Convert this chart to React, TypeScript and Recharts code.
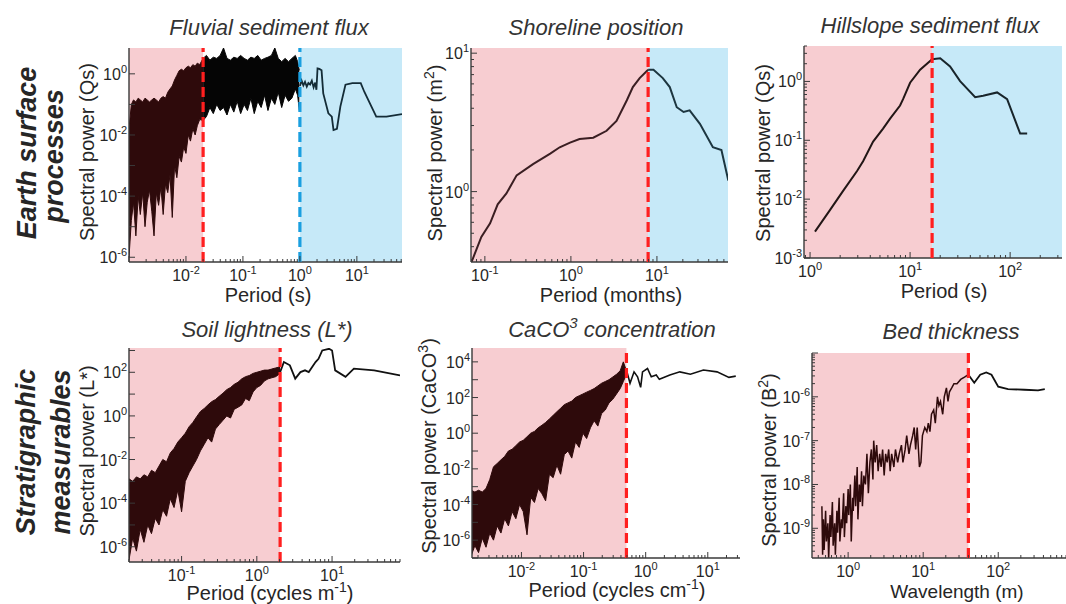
import React from 'react';
import { ComposedChart, Line, Area, XAxis, YAxis, ReferenceArea, ReferenceLine } from 'recharts';

const FONT = '"Liberation Sans", Arial, Helvetica, sans-serif';
const PINK = '#f7cdd1';
const BLUE = '#c6e9f8';
const RED = '#ff1f1f';
const CYAN = '#1a9fe0';
const FRAME = '#3a3a3a';
const TXT = '#262626';

// ---------- Fluvial sediment flux ----------
const fluvialNoiseX = [0.0010, 0.0011, 0.0012, 0.00132, 0.00145, 0.00158, 0.00174, 0.00191, 0.00209, 0.00229, 0.00251, 0.00275, 0.00302, 0.00331, 0.00363, 0.00398, 0.00437, 0.00479, 0.00525, 0.00575, 0.00631, 0.00692, 0.00759, 0.00832, 0.00912, 0.0100, 0.0110, 0.0120, 0.0132, 0.0145, 0.0158, 0.0174, 0.0200, 0.0229, 0.0263, 0.0302, 0.0347, 0.0398, 0.0457, 0.0525, 0.0603, 0.0692, 0.0794, 0.0912, 0.105, 0.120, 0.138, 0.158, 0.182, 0.209, 0.240, 0.275, 0.316, 0.363, 0.417, 0.479, 0.550, 0.631, 0.724, 0.832, 0.912, 0.977];
const fluvialNoiseHi = [0.016, 0.10, 0.14, 0.12, 0.16, 0.14, 0.12, 0.16, 0.14, 0.12, 0.14, 0.16, 0.14, 0.12, 0.16, 0.18, 0.16, 0.25, 0.32, 0.40, 0.63, 0.89, 1.26, 1.41, 1.26, 1.58, 1.78, 1.58, 2.0, 1.78, 2.24, 2.0, 3.2, 4.0, 2.8, 3.5, 3.2, 4.0, 7.0, 3.2, 2.8, 3.5, 3.2, 4.0, 3.2, 2.8, 3.5, 3.2, 4.0, 2.8, 3.2, 3.5, 4.0, 7.0, 3.2, 2.5, 3.2, 2.5, 3.2, 4.0, 2.5, 1.3];
const fluvialNoiseLo = [1.0e-6, 1.6e-5, 6.3e-5, 5.0e-6, 1.0e-4, 2.5e-5, 1.3e-4, 1.0e-5, 6.3e-5, 1.6e-4, 3.2e-5, 5.0e-6, 1.3e-4, 5.0e-5, 2.0e-4, 2.5e-5, 2.5e-4, 1.3e-4, 5.0e-4, 2.0e-5, 1.0e-3, 4.0e-4, 2.0e-3, 1.3e-3, 4.0e-3, 2.5e-3, 1.0e-2, 6.3e-3, 1.6e-2, 1.0e-2, 2.0e-2, 3.2e-2, 3.0e-2, 0.04, 0.079, 0.05, 0.1, 0.063, 0.079, 0.045, 0.1, 0.056, 0.126, 0.05, 0.1, 0.063, 0.16, 0.05, 0.126, 0.079, 0.2, 0.063, 0.16, 0.1, 0.25, 0.079, 0.2, 0.126, 0.16, 0.32, 0.2, 0.063];
const fluvialTailX = [1.0, 1.07, 1.15, 1.23, 1.32, 1.41, 1.51, 1.62, 1.74, 1.86, 1.95, 2.04, 2.19, 2.40, 2.57, 3.16, 3.63, 3.89, 4.47, 5.13, 6.31, 8.32, 11.7, 13.5, 21.9, 33.1, 62];
const fluvialTailY = [0.4, 0.6, 0.42, 0.55, 0.38, 0.5, 0.45, 0.6, 0.36, 0.52, 0.3, 1.5, 1.45, 1.3, 0.23, 0.051, 0.04, 0.0145, 0.016, 0.085, 0.44, 0.5, 0.5, 0.26, 0.04, 0.04, 0.048];
const fluvialXTicks = [0.01, 0.1, 1, 10];
const fluvialYTicks = [1e-6, 1e-4, 1e-2, 1];
const fluvialBreaks = [0.02, 1.0];

// ---------- Shoreline position ----------
const shoreX = [0.07, 0.091, 0.115, 0.141, 0.178, 0.234, 0.363, 0.575, 0.741, 0.977, 1.26, 1.82, 2.6, 3.39, 4.47, 5.25, 6.3, 7.9, 9.12, 11.7, 14.1, 17.0, 20.4, 24.0, 31.6, 44.7, 56.2, 67.6];
const shoreY = [0.31, 0.47, 0.59, 0.81, 0.97, 1.31, 1.58, 1.88, 2.09, 2.26, 2.4, 2.45, 2.75, 3.24, 4.57, 5.69, 6.6, 7.59, 7.59, 6.61, 5.69, 4.07, 3.76, 3.86, 3.09, 2.09, 2.0, 1.2];
const shoreXTicks = [0.1, 1, 10];
const shoreYTicks = [1, 10];
const shoreBreak = 7.9;

// ---------- Hillslope sediment flux ----------
const hillX = [1.12, 1.58, 2.14, 2.95, 3.39, 4.27, 5.37, 6.31, 7.94, 8.51, 10.0, 12.6, 16.6, 20.0, 25.1, 31.6, 44.7, 53.7, 74.1, 93.3, 126, 148];
const hillY = [0.0028, 0.0065, 0.0138, 0.030, 0.044, 0.095, 0.158, 0.234, 0.39, 0.5, 0.95, 1.58, 2.39, 2.48, 1.8, 1.01, 0.54, 0.57, 0.65, 0.5, 0.13, 0.13];
const hillXTicks = [1, 10, 100];
const hillYTicks = [1e-3, 1e-2, 1e-1, 1];
const hillBreak = 16.6;

// ---------- Soil lightness ----------
const soilNoiseX = [0.020, 0.0224, 0.0251, 0.0282, 0.0316, 0.0355, 0.0398, 0.0447, 0.0501, 0.0562, 0.0631, 0.0708, 0.0794, 0.0891, 0.100, 0.112, 0.126, 0.141, 0.158, 0.178, 0.200, 0.224, 0.251, 0.282, 0.316, 0.355, 0.398, 0.447, 0.501, 0.562, 0.631, 0.708, 0.794, 0.891, 1.00, 1.12, 1.26, 1.41, 1.58, 1.78, 2.04];
const soilNoiseHi = [1.3e-3, 1.0e-3, 1.6e-3, 1.3e-3, 2.0e-3, 1.6e-3, 3.2e-3, 2.5e-3, 5.0e-3, 1.0e-2, 7.9e-3, 2.0e-2, 3.2e-2, 6.3e-2, 0.10, 0.16, 0.32, 0.50, 0.90, 1.6, 2.2, 3.2, 4.5, 5.6, 7.9, 11, 16, 20, 28, 35, 50, 63, 71, 89, 100, 112, 126, 126, 141, 158, 178];
const soilNoiseLo = [2.5e-7, 2.5e-6, 6.3e-7, 6.3e-6, 1.6e-6, 1.0e-5, 4.0e-6, 2.0e-5, 1.0e-5, 5.0e-5, 2.5e-5, 1.6e-4, 6.3e-5, 4.0e-4, 4.0e-5, 1.0e-3, 2.5e-3, 5.0e-3, 1.0e-2, 2.5e-2, 5.0e-2, 0.10, 6.3e-2, 0.25, 0.40, 0.63, 1.0, 0.8, 2.0, 2.5, 3.2, 6.3, 5.0, 12.6, 20, 25, 40, 50, 56, 63, 89];
const soilTailX = [2.04, 2.29, 2.75, 3.24, 3.80, 4.37, 4.90, 6.03, 6.61, 7.41, 9.12, 10.0, 11.0, 15.1, 19.5, 36.3, 80];
const soilTailY = [102, 295, 209, 51, 102, 123, 102, 295, 417, 1000, 1200, 1000, 123, 62, 148, 123, 72];
const soilXTicks = [0.1, 1, 10];
const soilYTicks = [1e-6, 1e-4, 1e-2, 1, 100];
const soilBreak = 2.04;

// ---------- CaCO3 concentration ----------
const cacoNoiseX = [0.00155, 0.00178, 0.00204, 0.00234, 0.00269, 0.00309, 0.00355, 0.00407, 0.00468, 0.00537, 0.00617, 0.00708, 0.00813, 0.00933, 0.0107, 0.0123, 0.0141, 0.0162, 0.0186, 0.0214, 0.0245, 0.0282, 0.0324, 0.0372, 0.0427, 0.0490, 0.0562, 0.0646, 0.0741, 0.0851, 0.0977, 0.112, 0.129, 0.148, 0.170, 0.195, 0.224, 0.257, 0.295, 0.339, 0.389, 0.437, 0.490];
const cacoNoiseHi = [6.3e-4, 5.0e-4, 6.3e-4, 5.0e-4, 7.9e-4, 2.5e-3, 1.3e-2, 2.0e-2, 3.2e-2, 5.0e-2, 0.10, 0.126, 0.20, 0.32, 0.40, 0.63, 1.0, 1.26, 2.0, 2.8, 4.0, 6.3, 10, 16, 25, 40, 50, 63, 100, 126, 158, 200, 251, 316, 447, 631, 794, 1000, 1413, 2000, 3162, 10000, 3162];
const cacoNoiseLo = [1.3e-7, 5.0e-7, 2.0e-7, 1.3e-6, 4.0e-7, 2.5e-6, 1.0e-6, 6.3e-6, 2.5e-6, 1.6e-5, 6.3e-6, 4.0e-5, 1.6e-5, 1.0e-4, 4.0e-5, 2.0e-6, 2.5e-4, 1.3e-4, 7.9e-4, 4.0e-4, 1.6e-4, 5.0e-3, 3.2e-3, 1.6e-2, 5.0e-3, 6.3e-2, 0.10, 4.0e-2, 0.32, 0.16, 1.0, 0.5, 2.0, 5.0, 2.5, 12.6, 20, 50, 79, 158, 316, 794, 2000];
const cacoTailX = [0.49, 0.56, 0.65, 0.74, 0.83, 0.89, 1.07, 1.23, 1.48, 1.66, 2.45, 3.55, 5.25, 8.51, 14.1, 21.9, 28.2];
const cacoTailY = [3467, 631, 2754, 1445, 372, 2754, 4266, 1445, 1820, 1047, 1820, 2754, 2042, 3467, 2754, 1349, 1585];
const cacoXTicks = [0.01, 0.1, 1, 10];
const cacoYTicks = [1e-6, 1e-4, 1e-2, 1, 100, 1e4];
const cacoBreak = 0.49;

// ---------- Bed thickness ----------
const bedX = [0.447, 0.457, 0.468, 0.479, 0.501, 0.513, 0.537, 0.550, 0.575, 0.589, 0.617, 0.631, 0.661, 0.676, 0.708, 0.724, 0.759, 0.776, 0.813, 0.832, 0.871, 0.891, 0.933, 0.955, 1.0, 1.02, 1.07, 1.10, 1.15, 1.17, 1.23, 1.26, 1.32, 1.35, 1.41, 1.45, 1.51, 1.55, 1.62, 1.70, 1.78, 1.86, 1.95, 2.04, 2.14, 2.19, 2.29, 2.40, 2.51, 2.63, 2.75, 2.88, 3.02, 3.16, 3.31, 3.47, 3.63, 3.80, 4.07, 4.27, 4.57, 4.79, 5.13, 5.37, 5.75, 6.03, 6.46, 6.76, 7.24, 7.59, 7.94, 8.32, 8.91, 9.33, 9.77, 10.5, 11.2, 11.7, 12.3, 12.9, 13.8, 14.5, 15.5, 16.2, 17.0, 18.2, 19.1, 20.4, 21.4, 22.4, 24.0, 25.7, 28.2, 31.6, 35.5, 40, 47.9, 57.5, 69.2, 81.3, 100, 135, 224, 339, 417];
const bedY = [3.2e-9, 2.5e-10, 1.6e-9, 3.2e-10, 2.5e-9, 5.0e-10, 1.3e-9, 2.0e-10, 2.0e-9, 6.3e-10, 4.0e-9, 4.0e-10, 1.3e-9, 2.5e-10, 2.5e-9, 7.9e-10, 5.0e-9, 5.0e-10, 1.6e-9, 1.0e-9, 6.3e-9, 6.3e-10, 3.2e-9, 1.3e-9, 7.9e-9, 2.0e-9, 1.0e-8, 5.0e-10, 5.0e-9, 2.5e-9, 1.6e-8, 3.2e-9, 2.5e-8, 1.6e-9, 1.0e-8, 4.0e-9, 2.0e-8, 3.2e-9, 1.6e-8, 1.0e-8, 5.0e-8, 6.3e-9, 3.2e-8, 6.3e-8, 1.3e-8, 1.0e-7, 3.2e-8, 7.9e-8, 2.0e-8, 5.0e-8, 2.5e-8, 6.3e-8, 1.6e-8, 5.0e-8, 3.2e-8, 6.3e-8, 2.0e-8, 5.0e-8, 2.5e-8, 6.3e-8, 3.2e-8, 5.0e-8, 7.9e-8, 3.2e-8, 6.3e-8, 1.3e-7, 5.0e-8, 7.9e-8, 1.3e-7, 2.0e-7, 6.3e-8, 2.0e-7, 2.5e-8, 3.2e-8, 1.3e-7, 2.0e-7, 1.6e-7, 2.5e-7, 1.6e-7, 4.0e-7, 5.0e-7, 2.5e-7, 1.0e-6, 6.3e-7, 7.9e-7, 4.0e-7, 1.0e-6, 1.6e-6, 7.9e-7, 1.3e-6, 1.6e-6, 2.0e-6, 2.0e-6, 2.5e-6, 2.8e-6, 3.2e-6, 2.1e-6, 3.2e-6, 3.6e-6, 3.2e-6, 1.7e-6, 1.5e-6, 1.45e-6, 1.4e-6, 1.5e-6];
const bedXTicks = [1, 10, 100];
const bedYTicks = [1e-9, 1e-8, 1e-7, 1e-6];
const bedBreak = 40;

// ---------- helpers ----------
type Pt = { x: number; y: number };
type BandPt = { x: number; r: [number, number] };

const seg = (xs: number[], ys: number[], a: number, b: number): Pt[] =>
  xs.map((x, i) => ({ x, y: ys[i] })).filter((p) => p.x >= a && p.x <= b);
const band = (xs: number[], lo: number[], hi: number[], a: number, b: number): BandPt[] =>
  xs.map((x, i) => ({ x, r: [lo[i], hi[i]] as [number, number] })).filter((p) => p.x >= a && p.x <= b);

const isPow10 = (v: number) => {
  const l = Math.log10(v);
  return Math.abs(l - Math.round(l)) < 1e-6;
};
// tick positions for a log axis: every power of ten, plus minor ticks on short axes
const axisTicks = (d: [number, number]) => {
  const out: number[] = [];
  const k0 = Math.floor(Math.log10(d[0]));
  const k1 = Math.ceil(Math.log10(d[1]));
  const minor = k1 - k0 <= 5;
  for (let k = k0; k <= k1; k++) {
    const base = Math.pow(10, k);
    for (let m = 1; m <= 9; m++) {
      if (m > 1 && !minor) break;
      const v = Number((m * base).toPrecision(6));
      if (v >= d[0] * 0.9999 && v <= d[1] * 1.0001) out.push(v);
    }
  }
  return out;
};

const LogTick = (props: any) => {
  const { x, y, payload, orient, labels } = props;
  const v = payload?.value;
  if (v == null) return null;
  const major = isPow10(v);
  const len = major ? 6 : 3;
  const e = Math.round(Math.log10(v));
  const showLabel = major && labels.some((t: number) => Math.abs(Math.log10(t) - Math.log10(v)) < 1e-6);
  const lineP = { stroke: FRAME, strokeWidth: 1 };
  let line = null;
  let label = null;
  if (orient === 'bottom') {
    line = <line x1={x} y1={y} x2={x} y2={y - len} {...lineP} />;
    if (showLabel)
      label = (
        <text x={x} y={y + 19} textAnchor="middle" fontSize={16} fontFamily={FONT} fill={TXT}>
          10<tspan dy={-7} fontSize={11}>{String(e)}</tspan>
        </text>
      );
  } else if (orient === 'top') {
    line = <line x1={x} y1={y} x2={x} y2={y + len} {...lineP} />;
  } else if (orient === 'left') {
    line = <line x1={x} y1={y} x2={x + len} y2={y} {...lineP} />;
    if (showLabel)
      label = (
        <text x={x - 2} y={y + 6} textAnchor="end" fontSize={16} fontFamily={FONT} fill={TXT}>
          10<tspan dy={-7} fontSize={11}>{String(e)}</tspan>
        </text>
      );
  } else {
    line = <line x1={x} y1={y} x2={x - len} y2={y} {...lineP} />;
  }
  return (
    <g>
      {line}
      {label}
    </g>
  );
};

type Shade = { x1: number; x2: number; fill: string };
type VLine = { x: number; color: string };
type BandSeries = { data: BandPt[]; color: string };
type LineSeries = { data: Pt[]; color: string; width: number };

interface PanelProps {
  left: number;
  top: number;
  w: number;
  h: number;
  xDomain: [number, number];
  yDomain: [number, number];
  xLabels: number[];
  yLabels: number[];
  shades: Shade[];
  vlines: VLine[];
  bands: BandSeries[];
  lines: LineSeries[];
}

const YW = 60;
const XH = 34;
const MT = 14;
const MR = 4;

function Panel(p: PanelProps) {
  const xt = axisTicks(p.xDomain);
  const yt = axisTicks(p.yDomain);
  const width = YW + p.w + MR;
  const height = MT + p.h + XH;
  const axisLine = { stroke: FRAME, strokeWidth: 1.4 };
  return (
    <div style={{ position: 'absolute', left: p.left - YW, top: p.top - MT }}>
      <ComposedChart width={width} height={height} margin={{ top: MT, right: MR, left: 0, bottom: 0 }}>
        <XAxis
          xAxisId={0}
          dataKey="x"
          type="number"
          scale="log"
          domain={p.xDomain}
          allowDataOverflow
          ticks={xt}
          interval={0}
          tickSize={0}
          tickMargin={0}
          tickLine={false}
          axisLine={axisLine}
          height={XH}
          tick={(t: any) => <LogTick {...t} orient="bottom" labels={p.xLabels} />}
        />
        <XAxis
          xAxisId="top"
          orientation="top"
          dataKey="x"
          type="number"
          scale="log"
          domain={p.xDomain}
          allowDataOverflow
          ticks={xt}
          interval={0}
          tickSize={0}
          tickMargin={0}
          tickLine={false}
          axisLine={axisLine}
          height={0}
          tick={(t: any) => <LogTick {...t} orient="top" labels={[]} />}
        />
        <YAxis
          yAxisId={0}
          type="number"
          scale="log"
          domain={p.yDomain}
          allowDataOverflow
          ticks={yt}
          interval={0}
          tickSize={0}
          tickMargin={0}
          tickLine={false}
          axisLine={axisLine}
          width={YW}
          tick={(t: any) => <LogTick {...t} orient="left" labels={p.yLabels} />}
        />
        <YAxis
          yAxisId="right"
          orientation="right"
          type="number"
          scale="log"
          domain={p.yDomain}
          allowDataOverflow
          ticks={yt}
          interval={0}
          tickSize={0}
          tickMargin={0}
          tickLine={false}
          axisLine={axisLine}
          width={0}
          tick={(t: any) => <LogTick {...t} orient="right" labels={[]} />}
        />
        {p.shades.map((s, i) => (
          <ReferenceArea
            key={'s' + i}
            x1={s.x1}
            x2={s.x2}
            fill={s.fill}
            fillOpacity={1}
            stroke="none"
            ifOverflow="hidden"
            zIndex={-10}
          />
        ))}
        {p.bands.map((b, i) => (
          <Area
            key={'b' + i}
            data={b.data}
            dataKey="r"
            type="linear"
            stroke={b.color}
            strokeWidth={1}
            fill={b.color}
            fillOpacity={1}
            dot={false}
            activeDot={false}
            isAnimationActive={false}
          />
        ))}
        {p.lines.map((l, i) => (
          <Line
            key={'l' + i}
            data={l.data}
            dataKey="y"
            type="linear"
            stroke={l.color}
            strokeWidth={l.width}
            dot={false}
            activeDot={false}
            isAnimationActive={false}
          />
        ))}
        {p.vlines.map((v, i) => (
          <ReferenceLine
            key={'v' + i}
            x={v.x}
            stroke={v.color}
            strokeWidth={3.2}
            strokeDasharray="10 5"
            zIndex={900}
          />
        ))}
      </ComposedChart>
    </div>
  );
}

const INK_PINK = '#2e0a0b';
const INK_WHITE = '#050505';
const INK_BLUE = '#142c37';

export default function App() {
  const f = fluvialBreaks;
  const panels: PanelProps[] = [
    {
      left: 129, top: 48, w: 273, h: 214,
      xDomain: [0.001, 62], yDomain: [7e-7, 7],
      xLabels: fluvialXTicks, yLabels: fluvialYTicks,
      shades: [{ x1: 0.001, x2: f[0], fill: PINK }, { x1: f[1], x2: 62, fill: BLUE }],
      vlines: [{ x: f[0], color: RED }, { x: f[1], color: CYAN }],
      bands: [
        { data: band(fluvialNoiseX, fluvialNoiseLo, fluvialNoiseHi, 0, f[0]), color: INK_PINK },
        { data: band(fluvialNoiseX, fluvialNoiseLo, fluvialNoiseHi, f[0], f[1]), color: INK_WHITE },
      ],
      lines: [{ data: seg(fluvialTailX, fluvialTailY, f[1], 1e9), color: INK_BLUE, width: 1.8 }],
    },
    {
      left: 471, top: 48, w: 257, h: 214,
      xDomain: [0.069, 67], yDomain: [0.31, 10.9],
      xLabels: shoreXTicks, yLabels: shoreYTicks,
      shades: [{ x1: 0.069, x2: shoreBreak, fill: PINK }, { x1: shoreBreak, x2: 67, fill: BLUE }],
      vlines: [{ x: shoreBreak, color: RED }],
      bands: [],
      lines: [
        { data: seg(shoreX, shoreY, 0, shoreBreak), color: '#3a1e22', width: 2 },
        { data: seg(shoreX, shoreY, shoreBreak, 1e9), color: '#1d3640', width: 2 },
      ],
    },
    {
      left: 804, top: 46, w: 258, h: 212,
      xDomain: [0.87, 330], yDomain: [0.001, 4],
      xLabels: hillXTicks, yLabels: hillYTicks,
      shades: [{ x1: 0.87, x2: hillBreak, fill: PINK }, { x1: hillBreak, x2: 330, fill: BLUE }],
      vlines: [{ x: hillBreak, color: RED }],
      bands: [],
      lines: [
        { data: seg(hillX, hillY, 0, hillBreak), color: '#221616', width: 2 },
        { data: seg(hillX, hillY, hillBreak, 1e9), color: '#18252b', width: 2 },
      ],
    },
    {
      left: 129, top: 348, w: 271, h: 214,
      xDomain: [0.02, 80], yDomain: [2e-7, 1300],
      xLabels: soilXTicks, yLabels: soilYTicks,
      shades: [{ x1: 0.02, x2: soilBreak, fill: PINK }],
      vlines: [{ x: soilBreak, color: RED }],
      bands: [{ data: band(soilNoiseX, soilNoiseLo, soilNoiseHi, 0, soilBreak), color: INK_PINK }],
      lines: [{ data: seg(soilTailX, soilTailY, soilBreak, 1e9), color: '#111', width: 1.8 }],
    },
    {
      left: 472, top: 348, w: 268, h: 210,
      xDomain: [0.0016, 33], yDomain: [1e-7, 6e4],
      xLabels: cacoXTicks, yLabels: cacoYTicks,
      shades: [{ x1: 0.0016, x2: cacoBreak, fill: PINK }],
      vlines: [{ x: cacoBreak, color: RED }],
      bands: [{ data: band(cacoNoiseX, cacoNoiseLo, cacoNoiseHi, 0, cacoBreak), color: INK_PINK }],
      lines: [{ data: seg(cacoTailX, cacoTailY, cacoBreak, 1e9), color: '#111', width: 1.6 }],
    },
    {
      left: 812, top: 353, w: 256, h: 205,
      xDomain: [0.33, 850], yDomain: [2.1e-10, 1e-5],
      xLabels: bedXTicks, yLabels: bedYTicks,
      shades: [{ x1: 0.33, x2: bedBreak, fill: PINK }],
      vlines: [{ x: bedBreak, color: RED }],
      bands: [],
      lines: [
        { data: seg(bedX, bedY, 0, bedBreak), color: INK_PINK, width: 1.5 },
        { data: seg(bedX, bedY, bedBreak, 1e9), color: '#111', width: 1.8 },
      ],
    },
  ];

  const title = { fontSize: 22, fontStyle: 'italic' as const, fill: '#333', fontFamily: FONT, textAnchor: 'middle' as const };
  const axl = { fontSize: 20, fill: TXT, fontFamily: FONT, textAnchor: 'middle' as const };
  const row = { fontSize: 27, fontStyle: 'italic' as const, fontWeight: 700, fill: '#262626', fontFamily: FONT, textAnchor: 'middle' as const };
  const rot = (x: number, y: number) => `translate(${x},${y}) rotate(-90)`;

  return (
    <div style={{ position: 'absolute', left: 0, top: 0, width: 1066, height: 604, background: '#fff', overflow: 'hidden' }}>
      {panels.map((p, i) => (
        <Panel key={i} {...p} />
      ))}
      <svg width={1066} height={604} style={{ position: 'absolute', left: 0, top: 0, pointerEvents: 'none' }}>
        {/* titles */}
        <text x={269} y={35} {...title}>Fluvial sediment flux</text>
        <text x={596} y={35} {...title}>Shoreline position</text>
        <text x={930} y={33} {...title}>Hillslope sediment flux</text>
        <text x={267} y={337} {...title}>Soil lightness (L*)</text>
        <text x={612} y={337} {...title}>
          CaCO<tspan dy={-9} fontSize={15}>3</tspan>
          <tspan dy={9}> concentration</tspan>
        </text>
        <text x={951} y={339} {...title}>Bed thickness</text>

        {/* x axis labels */}
        <text x={268} y={302} {...axl}>Period (s)</text>
        <text x={611} y={302} {...axl}>Period (months)</text>
        <text x={944} y={298} {...axl}>Period (s)</text>
        <text x={270} y={600} {...axl}>
          Period (cycles m<tspan dy={-8} fontSize={14}>-1</tspan>
          <tspan dy={8}>)</tspan>
        </text>
        <text x={617} y={597} {...axl}>
          Period (cycles cm<tspan dy={-8} fontSize={14}>-1</tspan>
          <tspan dy={8}>)</tspan>
        </text>
        <text x={957} y={598} {...axl} fontSize={19}>Wavelength (m)</text>

        {/* y axis labels */}
        <text transform={rot(94, 152)} {...axl}>Spectral power (Qs)</text>
        <text transform={rot(442, 153)} {...axl}>
          Spectral power (m<tspan dy={-8} fontSize={14}>2</tspan>
          <tspan dy={8}>)</tspan>
        </text>
        <text transform={rot(770, 153)} {...axl}>Spectral power (Qs)</text>
        <text transform={rot(94, 451)} {...axl}>Spectral power (L*)</text>
        <text transform={rot(436, 446)} {...axl}>
          Spectral power (CaCO<tspan dy={-8} fontSize={14}>3</tspan>
          <tspan dy={8}>)</tspan>
        </text>
        <text transform={rot(776, 460)} {...axl}>
          Spectral power (B<tspan dy={-8} fontSize={14}>2</tspan>
          <tspan dy={8}>)</tspan>
        </text>

        {/* row labels */}
        <text transform={rot(36, 153)} {...row}>Earth surface</text>
        <text transform={rot(63, 156)} {...row}>processes</text>
        <text transform={rot(35, 452)} {...row}>Stratigraphic</text>
        <text transform={rot(70, 452)} {...row}>measurables</text>
      </svg>
    </div>
  );
}
